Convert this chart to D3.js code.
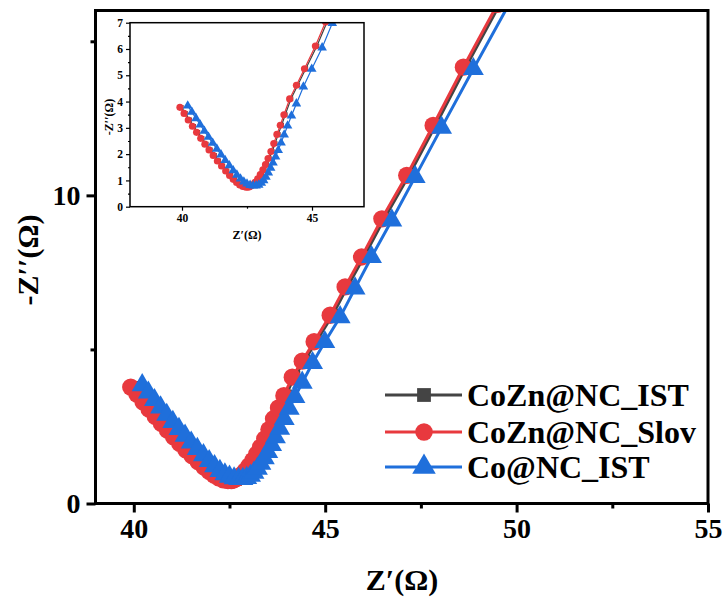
<!DOCTYPE html>
<html>
<head>
<meta charset="utf-8">
<script src="https://cdn.jsdelivr.net/npm/d3@7"></script>
<style>
  html, body { margin: 0; padding: 0; background: #fff; }
  svg { display: block; }
  text { font-family: "Liberation Serif", "Times New Roman", serif; font-weight: bold; fill: #000; }
</style>
</head>
<body>
<svg id="chart" width="727" height="600"></svg>
<script>
// Nyquist data, Z' (Ohm) and -Z'' (Ohm), high frequency at the left
const seriesNames = ["CoZn@NC_IST", "CoZn@NC_Slov", "Co@NC_IST"];

const istX = [39.97, 40.13, 40.29, 40.45, 40.61, 40.77, 40.93, 41.09, 41.25, 41.41, 41.57, 41.73, 41.88, 42.02, 42.15, 42.27, 42.39, 42.51, 42.6,
              42.66, 42.76, 42.86, 42.96, 43.06, 43.16, 43.26, 43.36, 43.47, 43.58, 43.7, 43.83, 43.97, 44.19, 44.45, 44.76, 45.19, 45.58, 46.01, 46.54, 47.19, 47.88, 48.67, 49.56, 50.56];
const istY = [3.78, 3.55, 3.3, 3.06, 2.83, 2.6, 2.38, 2.16, 1.95, 1.74, 1.55, 1.36, 1.19, 1.04, 0.92, 0.83, 0.77, 0.74, 0.74,
              0.77, 0.83, 0.93, 1.06, 1.22, 1.4, 1.6, 1.83, 2.1, 2.4, 2.75, 3.1, 3.5, 4.1, 4.62, 5.25, 6.11, 7.03, 8.0, 9.24, 10.65, 12.27, 14.16, 16.2, 18.5];

const slovX = [39.92, 40.08, 40.24, 40.4, 40.56, 40.72, 40.88, 41.04, 41.2, 41.36, 41.52, 41.68, 41.83, 41.97, 42.1, 42.22, 42.34, 42.46, 42.55,
               42.61, 42.71, 42.81, 42.91, 43.01, 43.11, 43.21, 43.31, 43.42, 43.53, 43.65, 43.78, 43.92, 44.14, 44.4, 44.71, 45.13, 45.52, 45.95, 46.48, 47.13, 47.82, 48.61, 49.5, 50.5];
const slovY = [3.78, 3.55, 3.3, 3.06, 2.83, 2.6, 2.38, 2.16, 1.95, 1.74, 1.55, 1.36, 1.19, 1.04, 0.92, 0.83, 0.77, 0.74, 0.74,
               0.77, 0.83, 0.93, 1.06, 1.22, 1.4, 1.6, 1.83, 2.1, 2.4, 2.75, 3.1, 3.5, 4.1, 4.62, 5.25, 6.11, 7.03, 8.0, 9.24, 10.65, 12.27, 14.16, 16.2, 18.5];

const coX = [40.22, 40.38, 40.54, 40.7, 40.86, 41.02, 41.18, 41.34, 41.5, 41.66, 41.82, 41.97, 42.11, 42.25, 42.38, 42.5, 42.62, 42.74, 42.85,
             42.95, 43.05, 43.14, 43.23, 43.32, 43.41, 43.5, 43.6, 43.7, 43.81, 43.93, 44.06, 44.21, 44.4, 44.67, 44.99, 45.39, 45.78, 46.21, 46.74, 47.35, 48.04, 48.87, 49.8, 50.8];
const coY = [3.84, 3.6, 3.36, 3.12, 2.88, 2.65, 2.42, 2.2, 1.98, 1.77, 1.57, 1.38, 1.21, 1.06, 0.95, 0.87, 0.82, 0.8, 0.8,
             0.83, 0.9, 1.0, 1.13, 1.29, 1.47, 1.67, 1.9, 2.15, 2.43, 2.74, 3.08, 3.46, 3.92, 4.56, 5.24, 6.05, 6.98, 8.0, 9.19, 10.6, 12.2, 14.1, 16.2, 18.4];

const mainXTicks = [40, 45, 50, 55];
const mainXMinor = [42.5, 47.5, 52.5];
const mainYTicks = [0, 10];
const mainYMinor = [5, 15];
const insetXTicks = [40, 45];
const insetXMinor = [42.5];
const insetYTicks = [0, 1, 2, 3, 4, 5, 6, 7];
const insetYMinor = [0.5, 1.5, 2.5, 3.5, 4.5, 5.5, 6.5];

const series = [
  { name: seriesNames[0], xs: istX, ys: istY, color: "#444444", marker: d3.symbolSquare },
  { name: seriesNames[1], xs: slovX, ys: slovY, color: "#e8393e", marker: d3.symbolCircle },
  { name: seriesNames[2], xs: coX, ys: coY, color: "#1f6fdb", marker: d3.symbolTriangle }
].map(s => ({ ...s, pts: s.xs.map((v, i) => [v, s.ys[i]]) }));

const svg = d3.select("#chart");

function drawPanel(g, x, y, opt) {
  const [x0, x1] = x.range();
  const [y0, y1] = y.range();
  const id = opt.id;
  g.append("clipPath").attr("id", id).append("rect")
    .attr("x", x0).attr("y", y1).attr("width", x1 - x0).attr("height", y0 - y1);

  const plot = g.append("g").attr("clip-path", `url(#${id})`);
  const line = d3.line().x(d => x(d[0])).y(d => y(d[1]));
  series.forEach((s, si) => {
    plot.append("path").datum(s.pts)
      .attr("fill", "none").attr("stroke", s.color)
      .attr("stroke-width", opt.lineWidth).attr("d", line);
    plot.append("g").selectAll("path").data(s.pts).join("path")
      .attr("transform", d => `translate(${x(d[0])},${y(d[1])})`)
      .attr("d", d3.symbol(s.marker, opt.sizes[si]))
      .attr("fill", s.color);
  });

  // axes
  const ax = g.append("g").attr("transform", `translate(0,${y0})`)
    .call(d3.axisBottom(x).tickValues(opt.xTicks).tickSize(opt.major).tickPadding(opt.pad).tickFormat(d3.format("d")));
  const axm = g.append("g").attr("transform", `translate(0,${y0})`)
    .call(d3.axisBottom(x).tickValues(opt.xMinor).tickSize(opt.minor).tickFormat(""));
  const ay = g.append("g").attr("transform", `translate(${x0},0)`)
    .call(d3.axisLeft(y).tickValues(opt.yTicks).tickSize(opt.major).tickPadding(opt.pad).tickFormat(d3.format("d")));
  const aym = g.append("g").attr("transform", `translate(${x0},0)`)
    .call(d3.axisLeft(y).tickValues(opt.yMinor).tickSize(opt.minor).tickFormat(""));
  [ax, axm, ay, aym].forEach(a => {
    a.select(".domain").remove();
    a.selectAll("line").attr("stroke", "#000").attr("stroke-width", opt.tickWidth);
    a.selectAll("text").attr("font-size", opt.tickFont).attr("font-family", null).attr("fill", "#000");
  });

  g.append("rect").attr("x", x0).attr("y", y1).attr("width", x1 - x0).attr("height", y0 - y1)
    .attr("fill", "none").attr("stroke", "#000").attr("stroke-width", opt.frameWidth);
}

// main chart
const x = d3.scaleLinear().domain([39, 55]).range([95.5, 708]);
const y = d3.scaleLinear().domain([0, 16]).range([503.5, 10.5]);
const main = svg.append("g");
drawPanel(main, x, y, {
  id: "clipMain", lineWidth: 3, sizes: [150, 235, 190],
  xTicks: mainXTicks, xMinor: mainXMinor, yTicks: mainYTicks, yMinor: mainYMinor,
  major: 9, minor: 5, pad: 6, tickWidth: 3, tickFont: 28, frameWidth: 3
});

main.append("text").attr("x", 402).attr("y", 590).attr("text-anchor", "middle")
  .attr("font-size", 30).text("Z\u2032(\u03A9)");
main.append("text").attr("transform", "translate(38,260) rotate(-90)").attr("text-anchor", "middle")
  .attr("font-size", 30).text("-Z\u2032\u2032(\u03A9)");

// legend
const legend = main.append("g");
const rowY = [395, 432, 467];
series.forEach((s, i) => {
  const r = legend.append("g").attr("transform", `translate(0,${rowY[i]})`);
  r.append("line").attr("x1", 385).attr("x2", 462).attr("stroke", s.color).attr("stroke-width", 3);
  r.append("path").attr("transform", "translate(424,0)")
    .attr("d", d3.symbol(s.marker, [190, 240, 240][i])).attr("fill", s.color);
  r.append("text").attr("x", 467).attr("y", 11).attr("font-size", 32).text(s.name);
});

// inset zoomed view
const xi = d3.scaleLinear().domain([38, 47]).range([130, 364]);
const yi = d3.scaleLinear().domain([0, 7]).range([206.7, 22.7]);
const inset = svg.append("g");
inset.append("rect").attr("x", 130).attr("y", 22.7).attr("width", 234).attr("height", 184).attr("fill", "#fff");
drawPanel(inset, xi, yi, {
  id: "clipInset", lineWidth: 1.2, sizes: [22, 40, 40],
  xTicks: insetXTicks, xMinor: insetXMinor, yTicks: insetYTicks, yMinor: insetYMinor,
  major: 4, minor: 2, pad: 3, tickWidth: 1.2, tickFont: 11.5, frameWidth: 1.5
});
inset.append("text").attr("x", 247).attr("y", 239).attr("text-anchor", "middle")
  .attr("font-size", 12).text("Z\u2032(\u03A9)");
inset.append("text").attr("transform", "translate(113,117) rotate(-90)").attr("text-anchor", "middle")
  .attr("font-size", 12).text("-Z\u2032\u2032(\u03A9)");
</script>
</body>
</html>
